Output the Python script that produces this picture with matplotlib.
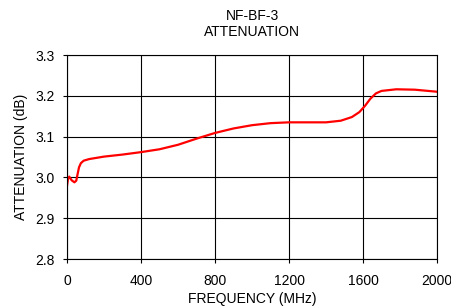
import matplotlib
matplotlib.use("Agg")
import matplotlib.pyplot as plt

freq_mhz = [0, 5, 12, 25, 40, 50, 58, 65, 75, 90, 120, 200, 300, 400, 500, 600,
            700, 800, 900, 1000, 1100, 1200, 1300, 1400, 1480, 1540, 1580, 1610,
            1640, 1670, 1700, 1780, 1880, 2000]
atten_db = [2.980, 2.995, 3.002, 2.993, 2.988, 2.992, 3.010, 3.025, 3.035, 3.041,
            3.045, 3.051, 3.056, 3.062, 3.069, 3.080, 3.095, 3.109, 3.120, 3.128,
            3.133, 3.135, 3.135, 3.135, 3.139, 3.148, 3.160, 3.175, 3.193, 3.206,
            3.212, 3.216, 3.215, 3.210]
x_ticks = [0, 400, 800, 1200, 1600, 2000]
y_ticks = [2.8, 2.9, 3.0, 3.1, 3.2, 3.3]

plt.rcParams["font.family"] = ["Liberation Sans", "DejaVu Sans"]

fig = plt.figure(figsize=(4.51, 3.08), dpi=100)
ax = fig.add_axes([0.1486, 0.159, 0.8204, 0.6624])
ax.plot(freq_mhz, atten_db, color="#ff0000", lw=1.6)
ax.set_xlim(0, 2000)
ax.set_ylim(2.8, 3.3)
ax.set_xticks(x_ticks)
ax.set_yticks(y_ticks)
ax.set_yticklabels([f"{v:.1f}" for v in y_ticks])
ax.grid(True, color="black", lw=0.8)
ax.set_axisbelow(True)
ax.tick_params(labelsize=10, length=3, width=0.8, color="black")
ax.tick_params(axis="x", pad=8)
ax.tick_params(axis="y", pad=6)
for s in ax.spines.values():
    s.set_linewidth(0.8)
ax.set_xlabel("FREQUENCY (MHz)", fontsize=10, labelpad=3)
ax.set_ylabel("ATTENUATION (dB)", fontsize=10, labelpad=5)
ax.set_title("NF-BF-3\nATTENUATION", fontsize=10, pad=14, linespacing=1.15)

fig.savefig("out.png", dpi=100)
